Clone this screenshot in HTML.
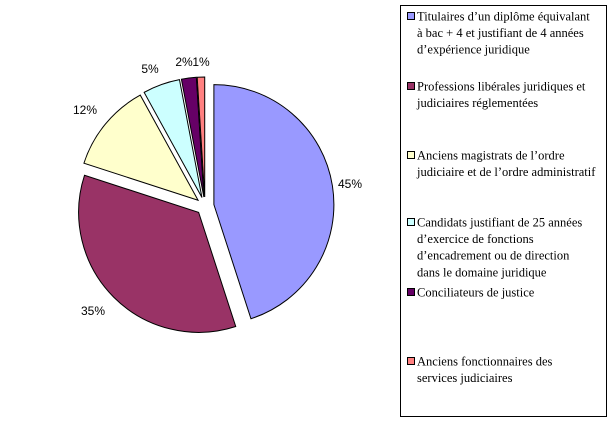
<!DOCTYPE html>
<html><head><meta charset="utf-8"><style>
body{margin:0;background:#fff;width:615px;height:422px;overflow:hidden;position:relative}
svg{position:absolute;left:0;top:0}
</style></head><body>
<svg id="chart" width="615" height="422" xmlns="http://www.w3.org/2000/svg"></svg>
<script>
const categories=["Titulaires d’un diplôme équivalant à bac + 4 et justifiant de 4 années d’expérience juridique","Professions libérales juridiques et judiciaires réglementées","Anciens magistrats de l’ordre judiciaire et de l’ordre administratif","Candidats justifiant de 25 années d’exercice de fonctions d’encadrement ou de direction dans le domaine juridique","Conciliateurs de justice","Anciens fonctionnaires des services judiciaires"];
const values=[45,35,12,5,2,1];
const valueLabels=["45%","35%","12%","5%","2%","1%"];
const legendLines=[["Titulaires d’un diplôme équivalant","à bac + 4 et justifiant de 4 années","d’expérience juridique"],["Professions libérales juridiques et","judiciaires réglementées"],["Anciens magistrats de l’ordre","judiciaire et de l’ordre administratif"],["Candidats justifiant de 25 années","d’exercice de fonctions","d’encadrement ou de direction","dans le domaine juridique"],["Conciliateurs de justice"],["Anciens fonctionnaires des","services judiciaires"]];
const colors=["#9999ff","#993366","#ffffcc","#ccffff","#660066","#ff8080"];
const svg=document.getElementById('chart');
const NS="http://www.w3.org/2000/svg";
function mk(t,a){const e=document.createElementNS(NS,t);for(const k in a)e.setAttribute(k,a[k]);svg.appendChild(e);return e;}
const cx=205,cy=206,R=120,EX=9;
const total=values.reduce((a,b)=>a+b,0);
function pt(ang,r,ox,oy){return [ox+r*Math.sin(ang),oy-r*Math.cos(ang)];}
const labelOff=[[145,-22],[-112,105],[-120,-96],[-55,-137],[-21,-144],[-4,-144]];
let a0=0;
values.forEach((v,i)=>{
  const a1=a0+v/total*2*Math.PI, mid=(a0+a1)/2;
  const ox=cx+EX*Math.sin(mid), oy=cy-EX*Math.cos(mid);
  const p0=pt(a0,R,ox,oy),p1=pt(a1,R,ox,oy);
  const large=(a1-a0)>Math.PI?1:0;
  const p=mk('path',{d:`M${ox},${oy}L${p0[0]},${p0[1]}A${R},${R} 0 ${large} 1 ${p1[0]},${p1[1]}Z`,fill:colors[i],stroke:'#000','stroke-width':1});
  
  
  const lo=labelOff[i]||[(R+22)*Math.sin(mid),-(R+22)*Math.cos(mid)];
  const t=mk('text',{x:cx+lo[0],y:cy+lo[1]+4,'text-anchor':'middle','font-family':'Liberation Sans, sans-serif','font-size':12,fill:'#000'});
  t.textContent=valueLabels[i];
  
  
  a0=a1;
});
const lb=mk('rect',{x:400.5,y:5.5,width:206,height:411,fill:'#fff',stroke:'#000','stroke-width':1});


const itemY=[16,86,155,222,292,361];
legendLines.forEach((lines,i)=>{
  const y=itemY[i];
  const m=mk('rect',{x:407.5,y:y-3.5,width:7,height:7,fill:colors[i],stroke:'#000','stroke-width':1});
  
  
  lines.forEach((ln,j)=>{
    const t=mk('text',{x:417,y:y+4.5+j*16.6,'font-family':'Liberation Serif, serif','font-size':12.5,fill:'#000'});
    t.textContent=ln;
    
    
  });
});
</script>
</body></html>
